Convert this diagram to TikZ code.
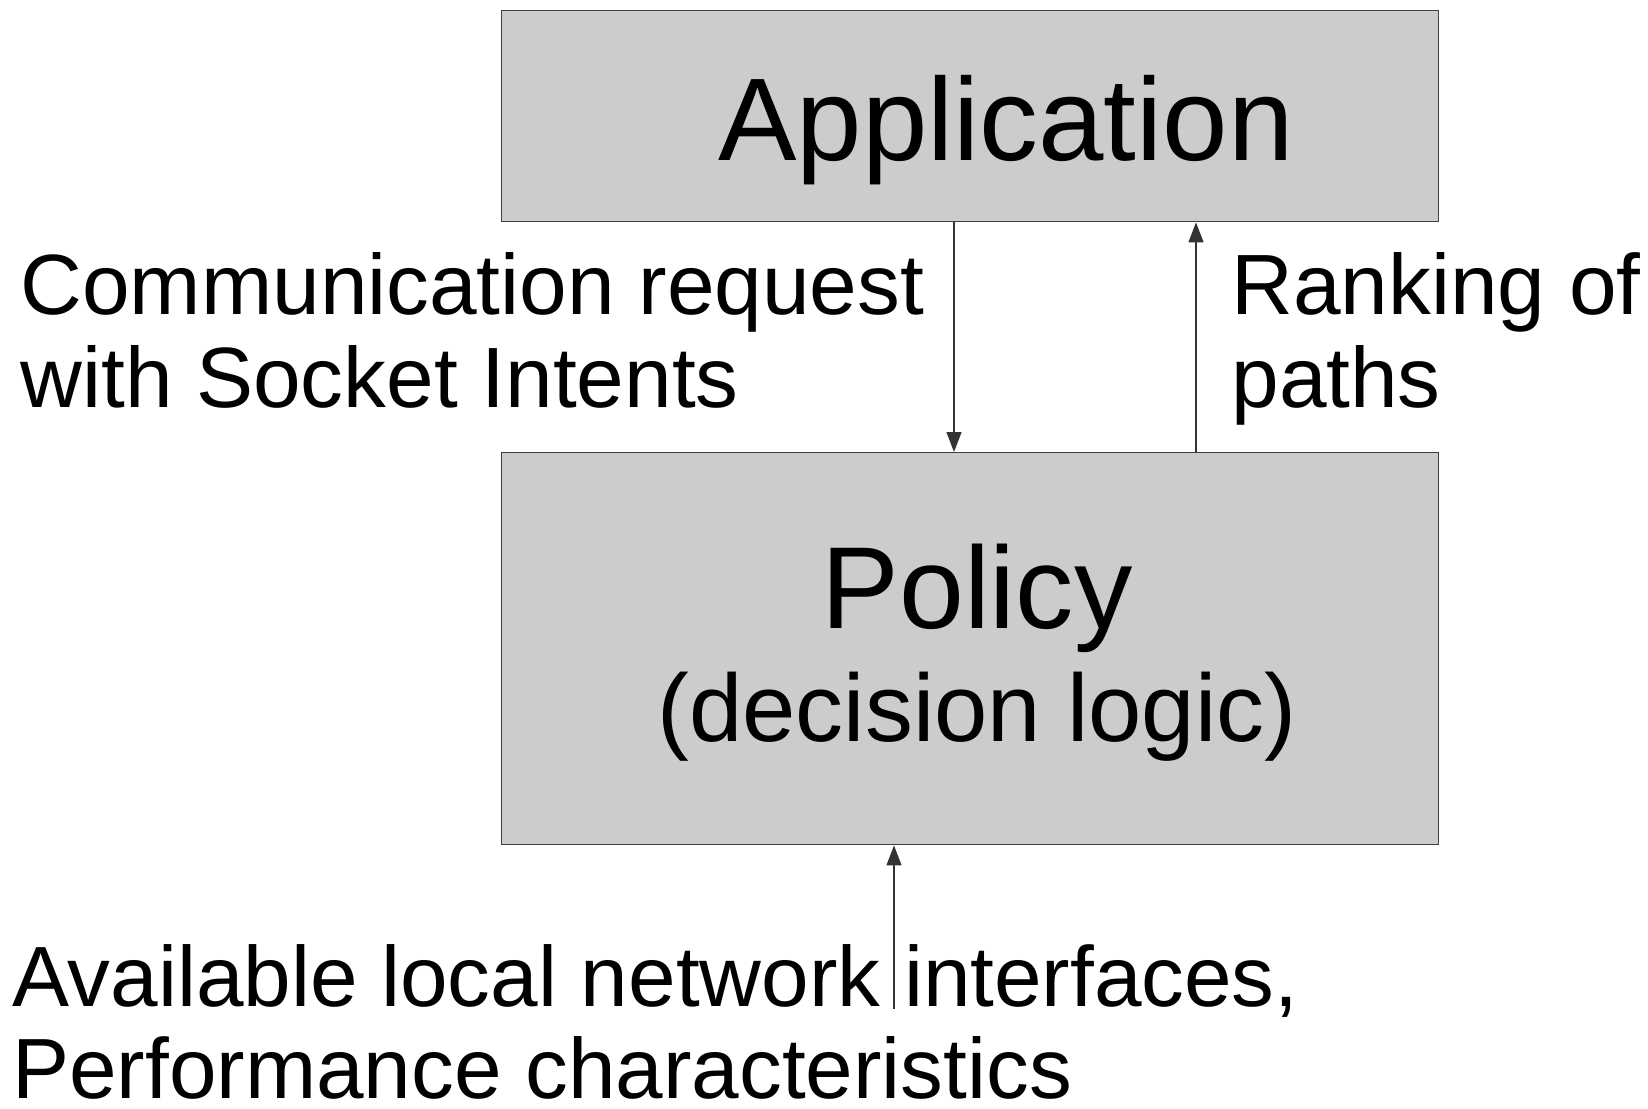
\documentclass[tikz,border=0pt]{standalone}
\usepackage{fontspec}
\setmainfont{Liberation Sans}
\usetikzlibrary{arrows.meta}
\begin{document}
\begin{tikzpicture}[x=0.5pt,y=-0.5pt,
  boxst/.style={draw=black!75,line width=0.7pt,fill=black!20,rectangle,inner sep=0pt},
  conn/.style={draw=black!80,line width=0.6pt,-{Triangle[length=10pt,width=7.5pt]}},
  lbl/.style={inner sep=0pt,align=left,anchor=base west,font=\fontsize{42.8pt}{46.5pt}\selectfont}]
\useasboundingbox (0,0) rectangle (1648,1108);
\node[boxst,minimum width=468.5pt,minimum height=105.75pt,anchor=north west] (app) at (501,9.5) {};
\node[boxst,minimum width=468.5pt,minimum height=196pt,anchor=north west] (pol) at (501,452) {};
\node[inner sep=0pt,anchor=base,font=\fontsize{58.8pt}{60pt}\selectfont] (apptxt) at (1006,160) {Application};
\node[inner sep=0pt,anchor=base,font=\fontsize{58.3pt}{60pt}\selectfont] (poltxt) at (977,628.5) {Policy};
\node[inner sep=0pt,anchor=base,font=\fontsize{47.9pt}{50pt}\selectfont] (dectxt) at (977,741) {(decision logic)};
\node[lbl] (req) at (20,407) {Communication request\\with Socket Intents};
\node[lbl] (rank) at (1231,407) {Ranking of\\paths};
\node[lbl,font=\fontsize{42.75pt}{45.75pt}\selectfont] (avail) at (12,1098) {Available local network interfaces,\\Performance characteristics};
\coordinate (cdown) at (954,0);
\coordinate (cup) at (1196,0);
\coordinate (inb) at (894,1009);
\draw[conn] (app.south -| cdown) -- (pol.north -| cdown);
\draw[conn] (pol.north -| cup) -- (app.south -| cup);
\draw[conn] (inb) -- (pol.south -| inb);
\end{tikzpicture}
\end{document}
